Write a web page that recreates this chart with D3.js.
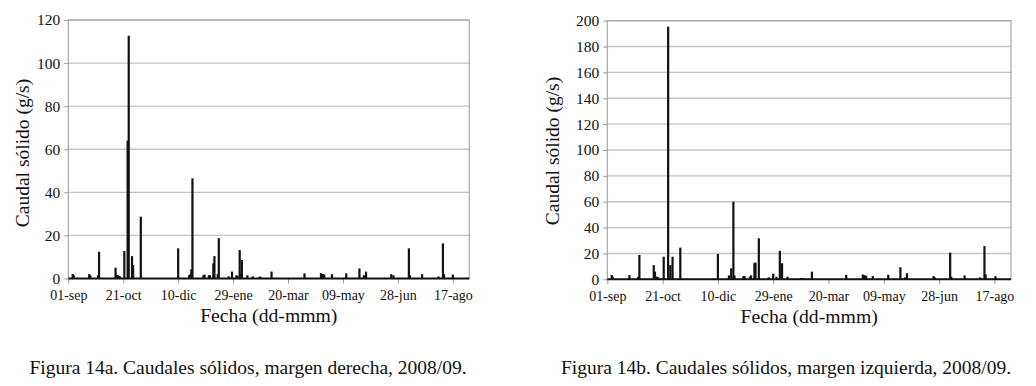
<!DOCTYPE html>
<html>
<head>
<meta charset="utf-8">
<script src="https://cdn.jsdelivr.net/npm/d3@7"></script>
<style>
	body { margin: 0; background: #fff; }
	svg { display: block; }
	svg text { font-family: "Liberation Serif", "Times New Roman", serif !important; fill: #111; }
</style>
</head>
<body>
<div id="chart"></div>
<script>
// dias contados desde el 01-sep-2008
var derechaDias = [4, 5, 19, 20, 27, 28, 43, 44, 45, 46, 47, 51, 54, 55, 58, 59, 66,
	100, 110, 111, 112, 113, 123, 124, 128, 129, 132, 133, 136, 137, 146, 149, 153, 154,
	156, 157, 158, 163, 168, 174, 175, 185, 215, 230, 231, 232, 233, 240, 253, 265, 269,
	271, 294, 296, 310, 311, 322, 337, 341, 342, 350];
var derechaCaudal = [2.1, 1.5, 2.0, 1.5, 1.5, 12.4, 5.0, 1.5, 1.5, 1.2, 1.0, 12.8, 64, 112.7, 10.4, 6.2, 28.7,
	14, 1.5, 2, 4.3, 46.5, 1.5, 1.8, 1.5, 1.5, 7, 10.4, 2, 18.7, 1, 3.2, 1.5, 1.2,
	13.2, 2, 8.6, 1.5, 1, 0.8, 0.8, 3.2, 2.4, 2.5, 2, 2, 1.8, 2, 2.4, 4.7, 1.5,
	3.2, 2, 1.5, 14, 1.5, 2, 1, 16.3, 2, 1.8];

var izquierdaDias = [4, 5, 20, 28, 29, 42, 43, 44, 45, 46, 51, 55, 57, 59, 66,
	100, 110, 112, 114, 115, 123, 124, 129, 130, 133, 134, 137, 146, 150, 153, 156, 158,
	163, 175, 177, 185, 216, 231, 232, 233, 234, 240, 254, 265, 269, 271, 295, 296, 310,
	311, 323, 337, 341, 342, 351];
var izquierdaCaudal = [3.3, 2, 3.3, 2, 18.8, 11, 6, 2, 2, 1.5, 17.5, 195.4, 11, 17.5, 24.5,
	19.6, 3, 8.5, 60, 3, 2.5, 2.5, 2, 3, 12.4, 13, 31.7, 1.5, 4.3, 2, 22, 12.4,
	2, 1, 1, 5.9, 3.5, 3.7, 3, 3, 2.5, 2.5, 3.5, 9.3, 1.5, 4.7, 2.5, 1.5, 20.6,
	2, 3, 1.5, 25.7, 4, 2.5];

var fechasEje = ["2008-09-01", "2008-10-21", "2008-12-10", "2009-01-29",
	"2009-03-20", "2009-05-09", "2009-06-28", "2009-08-17"];
var ticksDerecha = [0, 20, 40, 60, 80, 100, 120];
var ticksIzquierda = [0, 20, 40, 60, 80, 100, 120, 140, 160, 180, 200];

var fuente = '"Liberation Serif", "Times New Roman", serif';

var parseDate = d3.timeParse("%Y-%m-%d");
var inicio = parseDate("2008-09-01");
var fin = parseDate("2009-09-01");

var es = d3.timeFormatLocale({
	dateTime: "%A, %e de %B de %Y, %X",
	date: "%d/%m/%Y",
	time: "%H:%M:%S",
	periods: ["AM", "PM"],
	days: ["domingo", "lunes", "martes", "miércoles", "jueves", "viernes", "sábado"],
	shortDays: ["dom", "lun", "mar", "mié", "jue", "vie", "sáb"],
	months: ["enero", "febrero", "marzo", "abril", "mayo", "junio", "julio", "agosto", "septiembre", "octubre", "noviembre", "diciembre"],
	shortMonths: ["ene", "feb", "mar", "abr", "may", "jun", "jul", "ago", "sep", "oct", "nov", "dic"]
});
var fmtFecha = es.format("%d-%b");

var svg = d3.select("#chart")
	.append("svg")
	.attr("width", 1036)
	.attr("height", 386)
	.attr("font-family", fuente);

function drawBars(dias, caudal, yTicks, box, caption) {
	var data = dias.map(function (d, i) {
		return { fecha: d3.timeDay.offset(inicio, d), caudal: caudal[i] };
	});

	var x = d3.scaleTime().domain([inicio, fin]).range([box.left, box.right]);
	var y = d3.scaleLinear().domain([0, yTicks[yTicks.length - 1]]).range([box.bottom, box.top]);

	var g = svg.append("g");

	// rejilla
	g.selectAll("line.grid")
		.data(yTicks.slice(1))
		.enter().append("line")
		.attr("class", "grid")
		.attr("x1", box.left).attr("x2", box.right)
		.attr("y1", function (d) { return y(d); })
		.attr("y2", function (d) { return y(d); })
		.attr("stroke", "#c4c4c4")
		.attr("stroke-width", 1.4);

	g.append("rect")
		.attr("x", box.left).attr("y", box.top)
		.attr("width", box.right - box.left)
		.attr("height", box.bottom - box.top)
		.attr("fill", "none")
		.attr("stroke", "#a8a8a8")
		.attr("stroke-width", 1.2);

	// barras
	g.selectAll("rect.bar")
		.data(data)
		.enter().append("rect")
		.attr("class", "bar")
		.attr("x", function (d) { return x(d.fecha) - 1.1; })
		.attr("width", 2.2)
		.attr("y", function (d) { return y(d.caudal); })
		.attr("height", function (d) { return y(0) - y(d.caudal); })
		.attr("fill", "#111");

	var yAxis = d3.axisLeft(y)
		.tickValues(yTicks)
		.tickSize(4)
		.tickPadding(4);
	var ga = g.append("g")
		.attr("transform", "translate(" + box.left + ",0)")
		.call(yAxis)
		.attr("font-family", fuente);
	ga.select(".domain").remove();
	ga.selectAll("line").attr("stroke", "#999");
	ga.selectAll("text").style("font-family", fuente).style("font-size", "15.5px");

	var xAxis = d3.axisBottom(x)
		.tickValues(fechasEje.map(parseDate))
		.tickFormat(fmtFecha)
		.tickSize(5)
		.tickPadding(6.6);
	var gx = g.append("g")
		.attr("transform", "translate(0," + box.bottom + ")")
		.call(xAxis)
		.attr("font-family", fuente);
	gx.select(".domain").remove();
	gx.selectAll("line").attr("stroke", "#999");
	gx.selectAll("text").style("font-family", fuente).style("font-size", "14px");

	// eje x negro
	g.append("line")
		.attr("x1", box.left).attr("x2", box.right)
		.attr("y1", box.bottom).attr("y2", box.bottom)
		.attr("stroke", "#111")
		.attr("stroke-width", 2);

	g.append("text")
		.attr("transform", "translate(" + box.titleX + "," + box.titleY + ") rotate(-90)")
		.attr("text-anchor", "middle")
		.style("font-family", fuente)
		.style("font-size", "19.5px")
		.text("Caudal sólido (g/s)");

	g.append("text")
		.attr("x", (box.left + box.right) / 2)
		.attr("y", box.bottom + 43.5)
		.attr("text-anchor", "middle")
		.style("font-family", fuente)
		.style("font-size", "19.7px")
		.text("Fecha (dd-mmm)");

	g.append("text")
		.attr("x", box.captionX)
		.attr("y", 374)
		.attr("text-anchor", "middle")
		.style("font-family", fuente)
		.style("font-size", "19.5px")
		.text(caption);
}

drawBars(derechaDias, derechaCaudal, ticksDerecha,
	{ left: 68.3, right: 469.3, top: 20, bottom: 278.5, titleX: 29, titleY: 153, captionX: 248 },
	"Figura 14a. Caudales sólidos, margen derecha, 2008/09.");

drawBars(izquierdaDias, izquierdaCaudal, ticksIzquierda,
	{ left: 607.3, right: 1011, top: 20.7, bottom: 279.3, titleX: 559, titleY: 151, captionX: 786 },
	"Figura 14b. Caudales sólidos, margen izquierda, 2008/09.");
</script>
</body>
</html>
